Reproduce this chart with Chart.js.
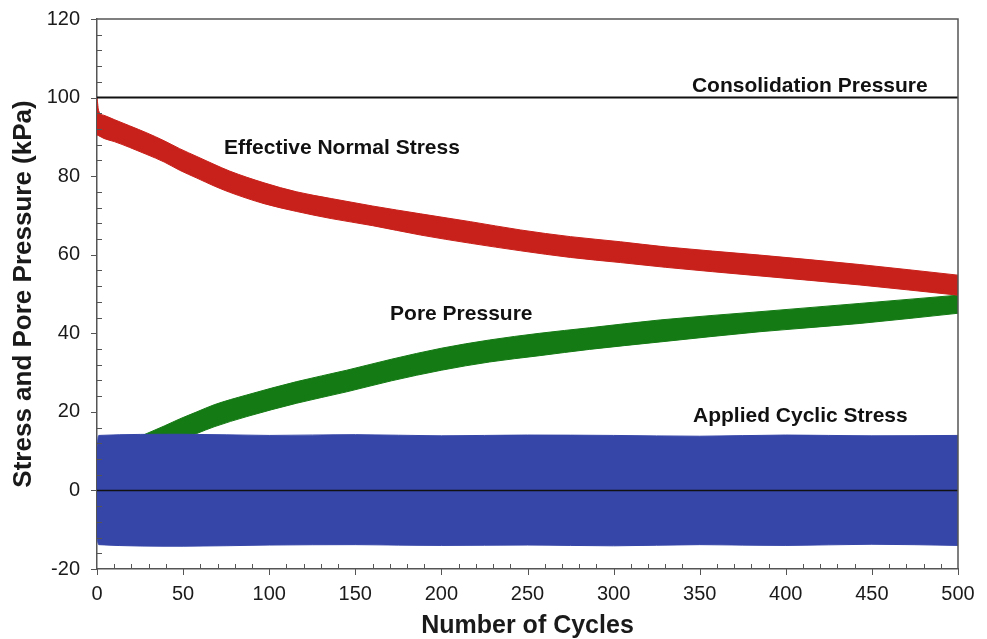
<!DOCTYPE html>
<html>
<head>
<meta charset="utf-8">
<title>Cyclic loading – stress and pore pressure</title>
<script src="https://cdn.jsdelivr.net/npm/chart.js@4/dist/chart.umd.min.js"></script>
<style>
  html, body { margin: 0; padding: 0; background: #ffffff; }
  #wrap { width: 987px; height: 639px; }
</style>
</head>
<body>
<div id="wrap"><canvas id="chart" width="987" height="639"></canvas></div>
<script>
// Effective normal stress: upper / lower envelope of the cyclic trace (kPa)
const effCycles = [0, 1, 4, 10, 19, 29, 39, 48, 58, 68, 77, 97, 116, 136, 160, 188, 217, 246, 275, 304, 330, 385, 443, 500];
const effUpper  = [100, 96.6, 95.5, 94.4, 92.8, 91.0, 89.0, 87.0, 85.0, 83.0, 81.3, 78.3, 76.0, 74.3, 72.4, 70.4, 68.4, 66.3, 64.6, 63.3, 62.0, 59.9, 57.5, 54.8];
const effLower  = [90.5, 90.3, 89.6, 88.8, 87.3, 85.5, 83.6, 81.5, 79.5, 77.5, 75.9, 73.0, 71.0, 69.2, 67.4, 65.0, 62.9, 61.0, 59.3, 58.0, 56.8, 54.6, 52.3, 49.7];

// Excess pore pressure envelope (kPa)
const poreCycles = [0, 4, 19, 29, 39, 48, 58, 68, 87, 116, 145, 171, 200, 228, 257, 286, 327, 385, 443, 500];
const poreUpper  = [7.0, 10.4, 12.7, 14.5, 16.4, 18.2, 20.0, 21.8, 24.3, 27.7, 30.6, 33.4, 36.2, 38.3, 40.0, 41.4, 43.4, 45.5, 47.6, 49.7];
const poreLower  = [0.5, 4.5, 7.0, 8.7, 10.8, 12.8, 14.5, 16.2, 18.8, 22.2, 25.1, 27.9, 30.6, 32.7, 34.3, 35.9, 37.8, 40.4, 42.5, 45.1];

// Applied cyclic stress amplitude envelope (kPa)
const cycCycles = [0, 1, 50, 100, 150, 200, 250, 300, 350, 400, 450, 500];
const cycUpper  = [11.0, 14.0, 14.3, 14.0, 14.2, 13.9, 14.1, 14.0, 13.8, 14.1, 13.9, 14.0];
const cycLower  = [-12.0, -13.8, -14.2, -13.9, -13.8, -14.0, -13.9, -14.1, -13.8, -14.0, -13.7, -14.0];

// Reference levels (kPa)
const consolidationPressure = 100;
const zeroStress = 0;

// Axis ticks
const xTickValues = [0, 50, 100, 150, 200, 250, 300, 350, 400, 450, 500];
const yTickValues = [-20, 0, 20, 40, 60, 80, 100, 120];

const RED = 'rgb(200, 32, 26)';
const GREEN = 'rgb(20, 122, 20)';
const BLUE = 'rgb(54, 70, 168)';
const AXIS = '#555555';

Chart.defaults.font.family = "'Liberation Sans', Arial, Helvetica, sans-serif";
Chart.defaults.color = '#1a1a1a';

const pts = (xs, ys) => xs.map((x, i) => ({ x, y: ys[i] }));

function band(xs, lo, hi, color, order) {
  const common = {
    borderColor: color,
    borderWidth: 1,
    pointRadius: 0,
    tension: 0.35,
    cubicInterpolationMode: 'monotone',
    order
  };
  return [
    Object.assign({ data: pts(xs, lo), fill: false }, common),
    Object.assign({ data: pts(xs, hi), fill: '-1', backgroundColor: color }, common)
  ];
}

function level(v, width) {
  return {
    data: [{ x: xTickValues[0], y: v }, { x: xTickValues[xTickValues.length - 1], y: v }],
    borderColor: '#111111',
    borderWidth: width,
    pointRadius: 0,
    fill: false,
    order: 0
  };
}

// Minor/major tick marks, plot frame and series captions
const frameAndTicks = {
  id: 'frameAndTicks',
  afterDraw(chart) {
    const { ctx, chartArea: a, scales: { x, y } } = chart;
    ctx.save();
    ctx.strokeStyle = AXIS;
    ctx.lineWidth = 1.5;
    ctx.beginPath();
    ctx.moveTo(a.left, a.top);
    ctx.lineTo(a.right, a.top);
    ctx.lineTo(a.right, a.bottom);
    ctx.stroke();

    ctx.lineWidth = 1;
    ctx.beginPath();
    for (let v = -20; v <= 120; v += 4) {
      const py = Math.round(y.getPixelForValue(v)) + 0.5;
      if (v % 20 === 0) { ctx.moveTo(a.left - 6, py); ctx.lineTo(a.left, py); }
      else { ctx.moveTo(a.left, py); ctx.lineTo(a.left + 5, py); }
    }
    for (let v = 0; v <= 500; v += 10) {
      const px = Math.round(x.getPixelForValue(v)) + 0.5;
      if (v % 50 === 0) { ctx.moveTo(px, a.bottom); ctx.lineTo(px, a.bottom + 6); }
      else { ctx.moveTo(px, a.bottom); ctx.lineTo(px, a.bottom - 5); }
    }
    ctx.stroke();

    const captions = [
      ['Consolidation Pressure', 345.5, 102.9],
      ['Effective Normal Stress', 73.8, 87.1],
      ['Pore Pressure', 170.2, 44.9],
      ['Applied Cyclic Stress', 346.1, 18.95]
    ];
    ctx.fillStyle = '#111111';
    ctx.font = "bold 21px 'Liberation Sans', Arial, sans-serif";
    ctx.textAlign = 'left';
    ctx.textBaseline = 'middle';
    for (const [t, cx, cy] of captions) {
      ctx.fillText(t, x.getPixelForValue(cx), y.getPixelForValue(cy));
    }
    ctx.restore();
  }
};

new Chart(document.getElementById('chart'), {
  type: 'line',
  data: {
    datasets: [
      ...band(poreCycles, poreLower, poreUpper, GREEN, 3),
      ...band(effCycles, effLower, effUpper, RED, 2),
      ...band(cycCycles, cycLower, cycUpper, BLUE, 1),
      level(consolidationPressure, 2),
      level(zeroStress, 1.5)
    ]
  },
  options: {
    responsive: false,
    animation: false,
    devicePixelRatio: 1,
    layout: { padding: { top: 19, right: 29, left: 0, bottom: 0 } },
    plugins: { legend: { display: false }, tooltip: { enabled: false } },
    scales: {
      x: {
        type: 'linear',
        min: 0,
        max: 500,
        afterBuildTicks: s => { s.ticks = xTickValues.map(v => ({ value: v })); },
        afterFit: s => { s.height = 70; s.paddingLeft = 0; s.paddingRight = 0; },
        grid: { display: false, drawTicks: false },
        border: { display: true, color: AXIS, width: 1.5 },
        ticks: { padding: 13, font: { size: 20 }, color: '#1a1a1a' },
        title: {
          display: true,
          text: 'Number of Cycles',
          font: { size: 25, weight: 'bold', lineHeight: 1 },
          color: '#1a1a1a',
          padding: { top: 0, bottom: 0 }
        }
      },
      y: {
        type: 'linear',
        min: -20,
        max: 120,
        afterBuildTicks: s => { s.ticks = yTickValues.map(v => ({ value: v })); },
        afterFit: s => { s.width = 97; s.paddingTop = 0; s.paddingBottom = 0; },
        grid: { display: false, drawTicks: false },
        border: { display: true, color: AXIS, width: 1.5 },
        ticks: { padding: 17, font: { size: 20 }, color: '#1a1a1a' },
        title: {
          display: true,
          text: 'Stress and Pore Pressure (kPa)',
          font: { size: 26, weight: 'bold', lineHeight: 1 },
          color: '#1a1a1a',
          padding: { top: 11, bottom: 0 }
        }
      }
    }
  },
  plugins: [frameAndTicks]
});
</script>
</body>
</html>
